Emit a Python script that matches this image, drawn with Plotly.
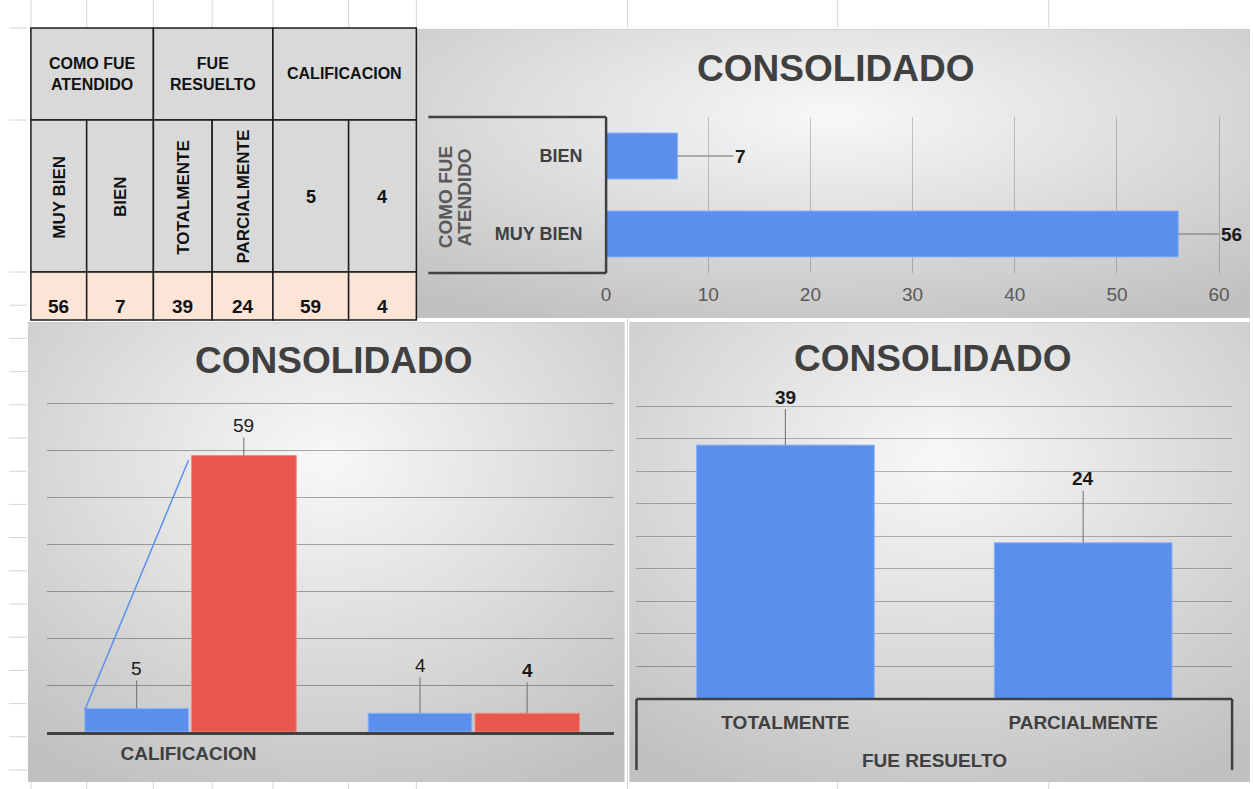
import base64
import plotly.graph_objects as go

W, H = 1253, 789
FONT = "Liberation Sans, Arial, sans-serif"

# ---------------- data ----------------
table_groups = ["COMO FUE<br>ATENDIDO", "FUE<br>RESUELTO", "CALIFICACION"]
table_subheaders = ["MUY BIEN", "BIEN", "TOTALMENTE", "PARCIALMENTE", "5", "4"]
table_values = [56, 7, 39, 24, 59, 4]

chart_title = "CONSOLIDADO"

atendido_title = ["COMO FUE", "ATENDIDO"]
atendido_cats = ["MUY BIEN", "BIEN"]
atendido_vals = [56, 7]

calif_cats = ["CALIFICACION", ""]
calif_series_a = [5, 4]      # blue
calif_series_b = [59, 4]     # red
calif_line_x = [-0.366, 0.0]
calif_line_y = [4.7, 58.0]

resuelto_title = "FUE RESUELTO"
resuelto_cats = ["TOTALMENTE", "PARCIALMENTE"]
resuelto_vals = [39, 24]

BLUE = "#5A8FEE"
RED = "#E8584C"
DARK = "#404040"
GRAY = "#595959"


def px(x):
    return x / W


def py(y):
    return 1 - y / H


def grad_uri(w, h):
    svg = (
        f'<svg xmlns="http://www.w3.org/2000/svg" width="{w}" height="{h}" '
        f'viewBox="0 0 {w} {h}" preserveAspectRatio="none"><defs>'
        '<radialGradient id="g" cx="0.5" cy="0.3" r="0.8">'
        '<stop offset="0" stop-color="#f8f8f8"/>'
        '<stop offset="0.4" stop-color="#e2e2e2"/>'
        '<stop offset="1" stop-color="#c0c0c0"/>'
        '</radialGradient></defs>'
        f'<rect x="0" y="0" width="{w}" height="{h}" fill="url(#g)" '
        'stroke="#c8c8c8" stroke-width="1"/></svg>'
    )
    return "data:image/svg+xml;base64," + base64.b64encode(svg.encode()).decode()


shapes = []
annotations = []
images = []

# ---------------- spreadsheet gridlines (visible segments) ----------------
GL = "#d6d6d6"
col_lines = [26, 82, 149, 208, 269, 345, 413, 625, 836, 1048]
for x in col_lines:
    shapes.append(dict(type="line", xref="paper", yref="paper", x0=px(x), x1=px(x),
                       y0=py(0), y1=py(28), line=dict(color=GL, width=1), layer="below"))
    shapes.append(dict(type="line", xref="paper", yref="paper", x0=px(x), x1=px(x),
                       y0=py(782), y1=py(789), line=dict(color=GL, width=1), layer="below"))
shapes.append(dict(type="line", xref="paper", yref="paper", x0=px(625), x1=px(625),
                   y0=py(318), y1=py(789), line=dict(color=GL, width=1), layer="below"))
row_lines = [28, 120, 272] + [272 + 33.2 * k for k in range(1, 16)]
for y in row_lines:
    if y > 789:
        continue
    shapes.append(dict(type="line", xref="paper", yref="paper", x0=px(4), x1=px(22),
                       y0=py(y), y1=py(y), line=dict(color=GL, width=1), layer="below"))

# ---------------- panels (gradient backgrounds) ----------------
panels = [(413, 29, 1250, 318), (23, 322, 622, 782), (627, 322, 1250, 782)]
for (x0, y0, x1, y1) in panels:
    images.append(dict(source=grad_uri(x1 - x0, y1 - y0), xref="paper", yref="paper",
                       x=px(x0), y=py(y0), sizex=(x1 - x0) / W, sizey=(y1 - y0) / H,
                       xanchor="left", yanchor="top", sizing="stretch", layer="below"))

# ---------------- table ----------------
tcols = [26, 82, 149, 208, 269, 345, 413]
trows = [28, 120, 272, 320]
BORDER = dict(color="#1a1a1a", width=1.5)
for gi, label in enumerate(table_groups):
    x0, x1 = tcols[2 * gi], tcols[2 * gi + 2]
    shapes.append(dict(type="rect", xref="paper", yref="paper", x0=px(x0), x1=px(x1),
                       y0=py(trows[1]), y1=py(trows[0]), fillcolor="#D9D9D9",
                       line=BORDER, layer="below"))
    annotations.append(dict(xref="paper", yref="paper", x=px((x0 + x1) / 2),
                            y=py((trows[0] + trows[1]) / 2), text=f"<b>{label}</b>",
                            showarrow=False, font=dict(family=FONT, size=16, color="#111"),
                            xanchor="center", yanchor="middle"))
for ci, (sub, val) in enumerate(zip(table_subheaders, table_values)):
    x0, x1 = tcols[ci], tcols[ci + 1]
    cx = (x0 + x1) / 2
    shapes.append(dict(type="rect", xref="paper", yref="paper", x0=px(x0), x1=px(x1),
                       y0=py(trows[2]), y1=py(trows[1]), fillcolor="#D9D9D9",
                       line=BORDER, layer="below"))
    shapes.append(dict(type="rect", xref="paper", yref="paper", x0=px(x0), x1=px(x1),
                       y0=py(trows[3]), y1=py(trows[2]), fillcolor="#FCE4D6",
                       line=BORDER, layer="below"))
    rotated = not sub.isdigit()
    annotations.append(dict(xref="paper", yref="paper", x=px(cx),
                            y=py((trows[1] + trows[2]) / 2 + 1), text=f"<b>{sub}</b>",
                            showarrow=False, textangle=-90 if rotated else 0,
                            font=dict(family=FONT, size=17 if rotated else 18, color="#111"),
                            xanchor="center", yanchor="middle"))
    annotations.append(dict(xref="paper", yref="paper", x=px(cx), y=py(306),
                            text=f"<b>{val}</b>", showarrow=False,
                            font=dict(family=FONT, size=19, color="#111"),
                            xanchor="center", yanchor="middle"))

# ---------------- chart titles ----------------
for (cx, cy) in [(834, 69), (330, 360), (932, 358)]:
    annotations.append(dict(xref="paper", yref="paper", x=px(cx), y=py(cy),
                            text=f"<b>{chart_title}</b>", showarrow=False,
                            font=dict(family=FONT, size=37, color=DARK),
                            xanchor="center", yanchor="middle"))

# ---------------- axis geometry ----------------
# top-right (horizontal bars)
x1_px0, x1_unit = 603.5, 10.258
x1_range = [0, 61]
xdom1 = [px(x1_px0), px(x1_px0 + x1_range[1] * x1_unit)]
ydom1 = [py(273), py(117)]

# bottom-left (grouped bars)
y2_unit = 4.686
y2_range = [0, 70.3]
xdom2 = [px(42), px(611)]
ydom2 = [py(732), py(732 - y2_range[1] * y2_unit)]

# bottom-right (vertical bars)
y3_unit = 6.51
y3_range = [0, 45.2]
xdom3 = [px(634), px(1232)]
ydom3 = [py(699), py(699 - y3_range[1] * y3_unit)]

# ---------------- traces ----------------
calif_pos = list(range(len(calif_cats)))
traces = [
    go.Bar(x=atendido_vals, y=atendido_cats, orientation="h", xaxis="x", yaxis="y",
           width=0.59, marker=dict(color=BLUE, line=dict(color="#8fb4f5", width=1)),
           hoverinfo="x+y"),
    go.Bar(x=calif_pos, y=calif_series_a, xaxis="x2", yaxis="y2", offset=-0.366, width=0.366,
           marker=dict(color=BLUE, line=dict(color="#8fb4f5", width=1))),
    go.Bar(x=calif_pos, y=calif_series_b, xaxis="x2", yaxis="y2", offset=0.011, width=0.369,
           marker=dict(color=RED, line=dict(color="#f08a80", width=1))),
    go.Scatter(x=calif_line_x, y=calif_line_y, xaxis="x2", yaxis="y2", mode="lines",
               line=dict(color=BLUE, width=1.5)),
    go.Bar(x=resuelto_cats, y=resuelto_vals, xaxis="x3", yaxis="y3", width=0.597,
           marker=dict(color=BLUE, line=dict(color="#8fb4f5", width=1))),
]

# ---------------- data labels with leader lines ----------------
LEAD = "#6f6f6f"


def label(text, x, y, xref, yref, ax, ay, bold=True):
    t = f"<b>{text}</b>" if bold else str(text)
    annotations.append(dict(x=x, y=y, xref=xref, yref=yref, text=t, showarrow=True,
                            arrowhead=0, arrowwidth=1, arrowcolor=LEAD, ax=ax, ay=ay,
                            standoff=0, font=dict(family=FONT, size=19, color="#1a1a1a")))


label(atendido_vals[1], atendido_vals[1], 1, "x", "y", 63, 0)
label(atendido_vals[0], atendido_vals[0], 0, "x", "y", 53, 0)
label(calif_series_a[0], -0.183, calif_series_a[0], "x2", "y2", 0, -40, bold=False)
label(calif_series_b[0], 0.195, calif_series_b[0], "x2", "y2", 0, -30, bold=False)
label(calif_series_a[1], 1 - 0.183, calif_series_a[1], "x2", "y2", 0, -48, bold=False)
label(calif_series_b[1], 1 + 0.195, calif_series_b[1], "x2", "y2", 0, -43, bold=True)
label(resuelto_vals[0], 0, resuelto_vals[0], "x3", "y3", 0, -48)
label(resuelto_vals[1], 1, resuelto_vals[1], "x3", "y3", 0, -64)

# ---------------- axis decorations ----------------
BOX = dict(color=DARK, width=2.5)
# top-right category box
shapes += [
    dict(type="line", xref="paper", yref="paper", x0=px(425), x1=xdom1[0], y0=ydom1[1], y1=ydom1[1], line=BOX),
    dict(type="line", xref="paper", yref="paper", x0=px(425), x1=xdom1[0], y0=ydom1[0], y1=ydom1[0], line=BOX),
    dict(type="line", xref="paper", yref="paper", x0=xdom1[0], x1=xdom1[0], y0=ydom1[0], y1=ydom1[1], line=BOX),
]
for i, t in enumerate(atendido_title):
    annotations.append(dict(xref="paper", yref="paper", x=px(442 + 19 * i), y=py(197),
                            text=f"<b>{t}</b>", showarrow=False, textangle=-90,
                            font=dict(family=FONT, size=19, color=GRAY),
                            xanchor="center", yanchor="middle"))
# bottom-right category box
shapes += [
    dict(type="line", xref="paper", yref="paper", x0=xdom3[0], x1=xdom3[1], y0=ydom3[0], y1=ydom3[0], line=BOX),
    dict(type="line", xref="paper", yref="paper", x0=xdom3[0], x1=xdom3[0], y0=ydom3[0], y1=py(770), line=BOX),
    dict(type="line", xref="paper", yref="paper", x0=xdom3[1], x1=xdom3[1], y0=ydom3[0], y1=py(770), line=BOX),
]
annotations.append(dict(xref="paper", yref="paper", x=(xdom3[0] + xdom3[1]) / 2, y=py(760),
                        text=f"<b>{resuelto_title}</b>", showarrow=False,
                        font=dict(family=FONT, size=19, color=DARK),
                        xanchor="center", yanchor="middle"))

TRANSP = "rgba(0,0,0,0)"
fig = go.Figure(traces)
fig.update_layout(
    width=W, height=H, margin=dict(l=0, r=0, t=0, b=0),
    paper_bgcolor="white", plot_bgcolor=TRANSP, showlegend=False,
    barmode="overlay", font=dict(family=FONT),
    xaxis=dict(domain=xdom1, anchor="y", range=x1_range, tick0=0, dtick=10,
               showgrid=True, gridcolor="rgba(0,0,0,0.2)", gridwidth=1, zeroline=False,
               showline=False, ticks="outside", ticklen=4, tickcolor=TRANSP,
               tickfont=dict(family=FONT, size=19, color=GRAY)),
    yaxis=dict(domain=ydom1, anchor="x", type="category", range=[-0.5, 1.5],
               showgrid=False, zeroline=False, showline=False, ticks="outside",
               ticklen=19, tickcolor=TRANSP,
               tickfont=dict(family=FONT, size=18, color=DARK, weight="bold")),
    xaxis2=dict(domain=xdom2, anchor="y2", range=[-0.5, 1.5], tickvals=calif_pos,
                ticktext=calif_cats, showgrid=False, zeroline=False, showline=True,
                linecolor=DARK, linewidth=3, ticks="outside", ticklen=2, tickcolor=TRANSP,
                tickfont=dict(family=FONT, size=19, color=DARK, weight="bold")),
    yaxis2=dict(domain=ydom2, anchor="x2", range=y2_range, dtick=10, showgrid=True,
                gridcolor="rgba(0,0,0,0.32)", gridwidth=1, zeroline=False,
                showticklabels=False, showline=False),
    xaxis3=dict(domain=xdom3, anchor="y3", type="category", range=[-0.5, 1.5],
                showgrid=False, zeroline=False, showline=False, ticks="outside",
                ticklen=6, tickcolor=TRANSP,
                tickfont=dict(family=FONT, size=19, color=DARK, weight="bold")),
    yaxis3=dict(domain=ydom3, anchor="x3", range=y3_range, dtick=5, showgrid=True,
                gridcolor="rgba(0,0,0,0.27)", gridwidth=1, zeroline=False,
                showticklabels=False, showline=False),
    shapes=shapes, annotations=annotations, images=images,
)
fig.write_html("out.html")
